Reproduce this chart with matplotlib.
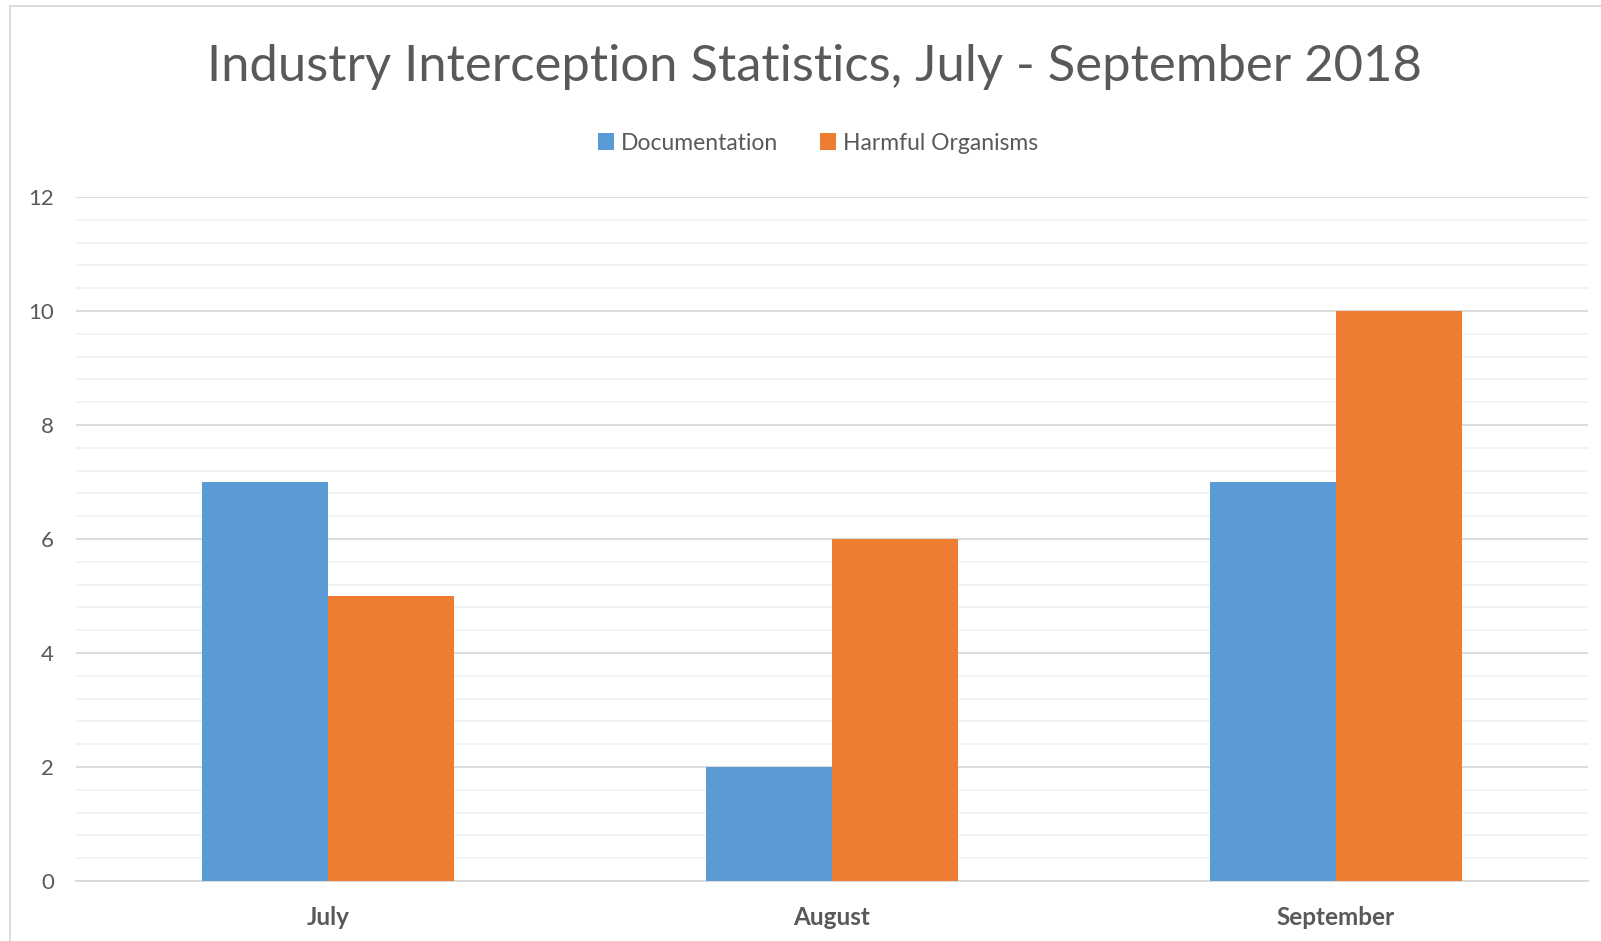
import numpy as np
import matplotlib.pyplot as plt
from matplotlib.lines import Line2D

# données
months = ["July", "August", "September"]
documentation = [7, 2, 7]
harmful = [5, 6, 10]

blue = "#5B9BD5"
orange = "#ED7D31"
txt = "#595959"

plt.rcParams['font.family'] = ['Lato', 'DejaVu Sans']

fig = plt.figure(figsize=(16.01, 9.41), dpi=100)
ax = fig.add_axes([76/1601, 1 - 881/941, (1588 - 76)/1601, (881 - 197)/941])

x = np.arange(len(months))
w = 0.25
ax.bar(x - w/2, documentation, w, color=blue, label="Documentation", zorder=3)
ax.bar(x + w/2, harmful, w, color=orange, label="Harmful Organisms", zorder=3)

ax.set_xlim(-0.5, 2.5)
ax.set_ylim(0, 12)
ax.set_yticks(np.arange(0, 13, 2))
ax.set_yticks(np.arange(0, 12.01, 0.4), minor=True)
ax.grid(axis='y', which='major', color='#d9d9d9', lw=1.3, zorder=1)
ax.grid(axis='y', which='minor', color='#f2f2f2', lw=1.3, zorder=0)
ax.tick_params(axis='y', which='both', length=0, labelsize=16, labelcolor=txt, pad=16)
ax.tick_params(axis='x', length=0, labelsize=17.5, labelcolor=txt, pad=18)
ax.set_xticks(x)
ax.set_xticklabels(months, fontweight='bold')
for s in ['top', 'right', 'left']:
    ax.spines[s].set_visible(False)
ax.spines['bottom'].set_color('#d9d9d9')
ax.spines['bottom'].set_linewidth(1.3)

fig.text(0.509, 1 - 67/941, "Industry Interception Statistics, July - September 2018",
         ha='center', va='center', fontsize=36.5, color=txt)

fig.legend(loc='center', bbox_to_anchor=(0.511, 1 - 143/941), ncol=2, frameon=False,
           fontsize=16.5, labelcolor=txt, handlelength=0.7, handleheight=0.7,
           handletextpad=0.3, columnspacing=1.8)

# cadre du graphique
fig.add_artist(Line2D([10/1601, 10/1601], [0, 1 - 6/941], color='#d9d9d9', lw=1.3))
fig.add_artist(Line2D([10/1601, 1], [1 - 6/941, 1 - 6/941], color='#d9d9d9', lw=1.3))

fig.savefig("out.png", dpi=100, facecolor='white')
